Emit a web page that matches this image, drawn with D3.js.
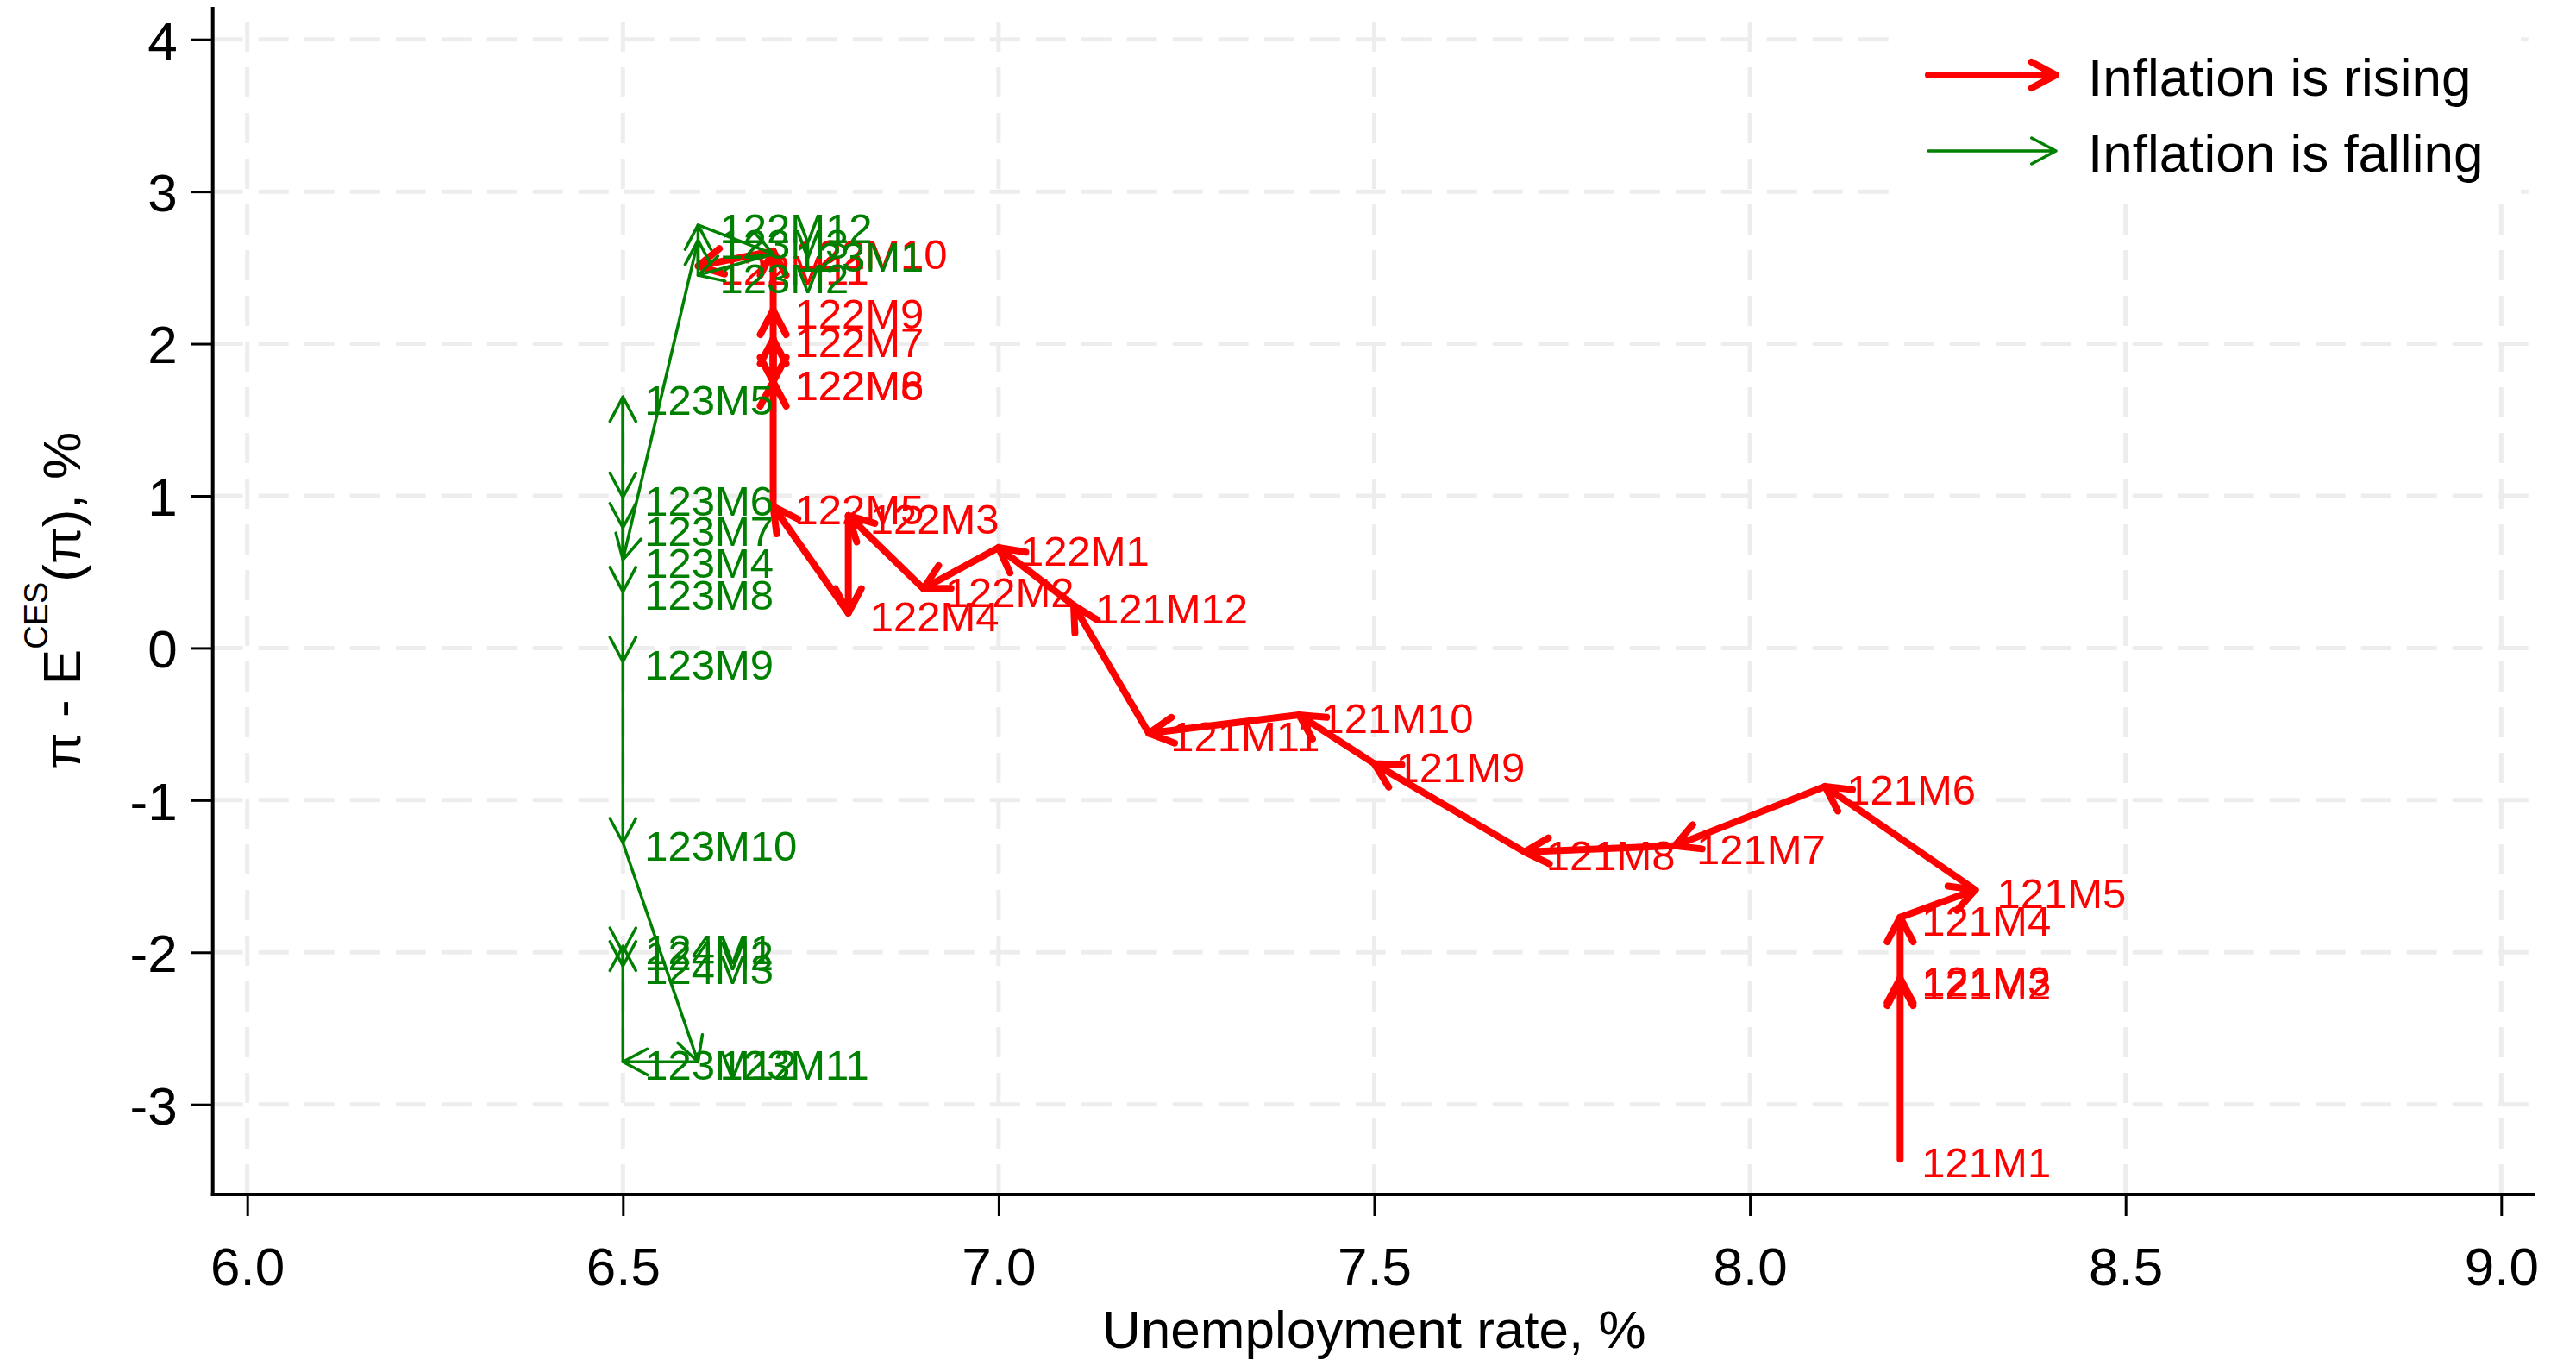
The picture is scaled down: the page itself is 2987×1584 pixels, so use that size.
<!DOCTYPE html>
<html>
<head>
<meta charset="utf-8">
<script src="https://cdn.jsdelivr.net/npm/d3@7"></script>
<style>
  body { margin: 0; background: #ffffff; }
  svg { display: block; }
  text { font-family: "Liberation Sans", Arial, Helvetica, sans-serif; }
</style>
</head>
<body>
<svg id="chart" width="2987" height="1584"></svg>
<script>
// Monthly observations, 2021M1 .. 2024M3 (labels use Stata's 1YY prefix)
const months = [
  "121M1","121M2","121M3","121M4","121M5","121M6","121M7","121M8","121M9","121M10","121M11","121M12",
  "122M1","122M2","122M3","122M4","122M5","122M6","122M7","122M8","122M9","122M10","122M11","122M12",
  "123M1","123M2","123M3","123M4","123M5","123M6","123M7","123M8","123M9","123M10","123M11","123M12",
  "124M1","124M2","124M3"
];

// Unemployment rate, %
const unemployment = [
  8.2, 8.2, 8.2, 8.2, 8.3, 8.1, 7.9, 7.7, 7.5, 7.4, 7.2, 7.1,
  7.0, 6.9, 6.8, 6.8, 6.7, 6.7, 6.7, 6.7, 6.7, 6.7, 6.6, 6.6,
  6.7, 6.6, 6.6, 6.5, 6.5, 6.5, 6.5, 6.5, 6.5, 6.5, 6.6, 6.5,
  6.5, 6.5, 6.5
];

// Inflation minus CES expected inflation, percentage points
const gap = [
  -3.36, -2.19, -2.17, -1.77, -1.59, -0.91, -1.30, -1.34, -0.76, -0.44, -0.56, 0.28,
  0.66, 0.39, 0.87, 0.23, 0.93, 1.75, 2.03, 1.75, 2.22, 2.61, 2.51, 2.78,
  2.59, 2.45, 2.68, 0.58, 1.65, 0.99, 0.79, 0.37, -0.09, -1.28, -2.72, -2.72,
  -1.96, -2.00, -2.09
];

// 1 = inflation rose going into this month, 0 = it fell
const inflationRising = [
  1, 1, 1, 1, 1, 1, 1, 1, 1, 1, 1, 1,
  1, 1, 1, 1, 1, 1, 1, 1, 1, 1, 1, 0,
  0, 0, 0, 0, 0, 0, 0, 0, 0, 0, 0, 0,
  0, 0, 0
];

const xTicks = [6.0, 6.5, 7.0, 7.5, 8.0, 8.5, 9.0];
const xTickLabels = ["6.0", "6.5", "7.0", "7.5", "8.0", "8.5", "9.0"];
const yTicks = [-3, -2, -1, 0, 1, 2, 3, 4];
const yTickLabels = ["-3", "-2", "-1", "0", "1", "2", "3", "4"];

const legendLabels = ["Inflation is rising", "Inflation is falling"];

// ---- styling ----
const RED = "#ff0000", GREEN = "#008000";
const style = {
  1: { color: RED, width: 8 },
  0: { color: GREEN, width: 3.5 }
};
const GRID = "#ededed";

const svg = d3.select("#chart");
const plot = { left: 246.7, right: 2940, top: 8, bottom: 1385 };

const x = d3.scaleLinear().domain([6, 9]).range([286.7, 2900.3]);
const y = d3.scaleLinear().domain([-3, 4]).range([1280.7, 45.7]);

// ---- grid ----
const grid = svg.append("g");
grid.selectAll("line.gx").data(xTicks).join("line")
  .attr("x1", d => x(d)).attr("x2", d => x(d))
  .attr("y1", plot.bottom).attr("y2", plot.top)
  .attr("stroke", GRID).attr("stroke-width", 5).attr("stroke-dasharray", "35 18");
grid.selectAll("line.gy").data(yTicks).join("line")
  .attr("y1", d => y(d)).attr("y2", d => y(d))
  .attr("x1", plot.left).attr("x2", plot.right)
  .attr("stroke", GRID).attr("stroke-width", 5).attr("stroke-dasharray", "35 18");

// ---- axes ----
const yAxis = d3.axisLeft(y).tickValues(yTicks).tickSize(25).tickPadding(16)
  .tickFormat((d, i) => yTickLabels[i]);
const gy = svg.append("g").attr("transform", `translate(${plot.left},0)`).call(yAxis);
gy.select(".domain").remove();
gy.selectAll(".tick line").attr("stroke", "#000").attr("stroke-width", 3);
gy.selectAll(".tick text").attr("font-size", 62).attr("fill", "#000")
  .attr("dy", "0.36em").style("font-family", "'Liberation Sans', Arial, sans-serif");

const xAxis = d3.axisBottom(x).tickValues(xTicks).tickSize(25)
  .tickFormat((d, i) => xTickLabels[i]);
const gx = svg.append("g").attr("transform", `translate(0,${plot.bottom})`).call(xAxis);
gx.select(".domain").remove();
gx.selectAll(".tick line").attr("stroke", "#000").attr("stroke-width", 3);
gx.selectAll(".tick text").attr("font-size", 62).attr("fill", "#000")
  .attr("y", 105).attr("dy", 0).style("font-family", "'Liberation Sans', Arial, sans-serif");

svg.append("line").attr("x1", plot.left).attr("x2", plot.left)
  .attr("y1", plot.top).attr("y2", plot.bottom + 2)
  .attr("stroke", "#000").attr("stroke-width", 4);
svg.append("line").attr("x1", plot.left - 2).attr("x2", plot.right)
  .attr("y1", plot.bottom).attr("y2", plot.bottom)
  .attr("stroke", "#000").attr("stroke-width", 4);

// ---- axis titles ----
svg.append("text")
  .attr("x", (plot.left + plot.right) / 2).attr("y", 1563)
  .attr("text-anchor", "middle").attr("font-size", 62).attr("fill", "#000")
  .text("Unemployment rate, %");

const yTitle = svg.append("text")
  .attr("transform", `translate(93,${(plot.top + plot.bottom) / 2}) rotate(-90)`)
  .attr("text-anchor", "middle").attr("font-size", 62).attr("fill", "#000");
yTitle.append("tspan").text("\u03c0 - E");
yTitle.append("tspan").attr("font-size", 38).attr("dy", -38).text("CES");
yTitle.append("tspan").attr("dy", 38).text("(\u03c0), %");

// ---- arrows ----
const ARM = 32, HALF = 28 * Math.PI / 180;
function arrowPath(x0, y0, x1, y1) {
  const a = Math.atan2(y1 - y0, x1 - x0);
  const ax1 = x1 - ARM * Math.cos(a - HALF), ay1 = y1 - ARM * Math.sin(a - HALF);
  const ax2 = x1 - ARM * Math.cos(a + HALF), ay2 = y1 - ARM * Math.sin(a + HALF);
  return `M${x0},${y0}L${x1},${y1}M${ax1},${ay1}L${x1},${y1}L${ax2},${ay2}`;
}

const points = months.map((m, i) => ({ m, u: unemployment[i], g: gap[i], up: inflationRising[i] }));
const segments = d3.range(1, points.length).map(i => ({ from: points[i - 1], to: points[i], up: points[i].up }));

// rising layer first, falling layer on top
[1, 0].forEach(up => {
  const layer = svg.append("g");
  layer.selectAll("path").data(segments.filter(s => s.up === up)).join("path")
    .attr("d", s => arrowPath(x(s.from.u), y(s.from.g), x(s.to.u), y(s.to.g)))
    .attr("fill", "none").attr("stroke", style[up].color).attr("stroke-width", style[up].width)
    .attr("stroke-linecap", "round").attr("stroke-linejoin", "round");
  layer.selectAll("text").data(points.filter(p => p.up === up)).join("text")
    .attr("x", p => x(p.u) + 25).attr("y", p => y(p.g) + 21)
    .attr("font-size", 49).attr("fill", style[up].color)
    .text(p => p.m);
});

// ---- legend ----
const legend = svg.append("g");
legend.append("rect").attr("x", 2195).attr("y", 25).attr("width", 728).attr("height", 210).attr("fill", "#fff");
[1, 0].forEach((up, i) => {
  const ly = 87 + i * 88;
  legend.append("path")
    .attr("d", arrowPath(2236, ly, 2384, ly))
    .attr("fill", "none").attr("stroke", style[up].color).attr("stroke-width", style[up].width)
    .attr("stroke-linecap", "round").attr("stroke-linejoin", "round");
  legend.append("text").attr("x", 2421).attr("y", ly + 24)
    .attr("font-size", 62).attr("fill", "#000").text(legendLabels[i]);
});
</script>
</body>
</html>
